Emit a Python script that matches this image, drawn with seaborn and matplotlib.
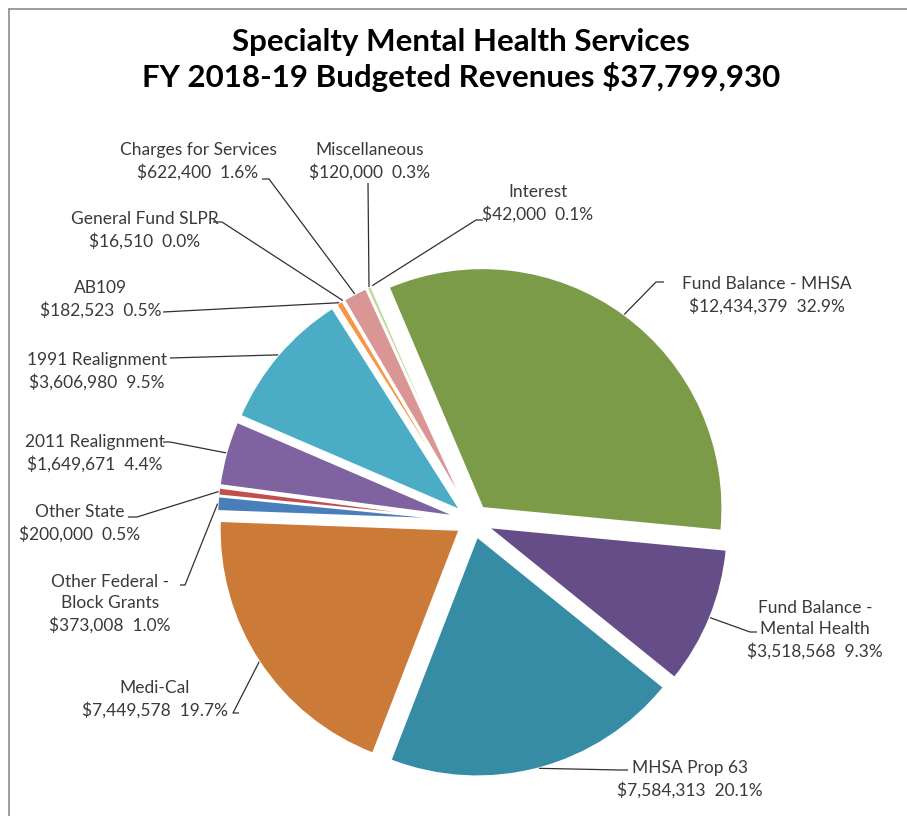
import numpy as np
import matplotlib
matplotlib.use("Agg")
import matplotlib.pyplot as plt
from matplotlib.lines import Line2D
import seaborn as sns

# ---------------- data ----------------
categories = [
    "Fund Balance - MHSA", "Fund Balance -\nMental Health", "MHSA Prop 63",
    "Medi-Cal", "Other Federal -\nBlock Grants", "Other State",
    "2011 Realignment", "1991 Realignment", "AB109", "General Fund SLPR",
    "Charges for Services", "Miscellaneous", "Interest",
]
values = [12434379, 3518568, 7584313, 7449578, 373008, 200000,
          1649671, 3606980, 182523, 16510, 622400, 120000, 42000]
colors_hex = ["#7B9B48", "#654D88", "#378CA5", "#CC7A38", "#4A7EBB", "#C0504D",
              "#7F63A1", "#4BACC6", "#F79646", "#2C4D75", "#D99694", "#C4D79B",
              "#B7DEE8"]
title_text = "Specialty Mental Health Services\nFY 2018-19 Budgeted Revenues $37,799,930"

# ---------------- layout (pixels) ----------------
W, H = 907, 816
CX, CY, R = 473, 521, 240          # pie centre and radius in pixels
EXPL = 16 / R
START = 113                         # degrees, clockwise drawing

# text centre (px) and leader start points (px) for each label
label_pos = {
    0: ((767, 295), [(664, 282), (656, 282)]),
    1: ((815, 630), [(757, 632), (750, 632)]),
    2: ((690, 779), [(628, 770), (620, 770)]),
    3: ((155, 699), [(239, 713), (233, 713)]),
    4: ((110, 604), [(180, 585), (185, 585)]),
    5: ((80, 523), [(128, 517), (137, 517)]),
    6: ((95, 453), [(163, 442), (170, 442)]),
    7: ((97, 371), [(170, 358)]),
    8: ((101, 299), [(163, 312)]),
    9: ((145, 230), [(213, 222), (222, 222)]),
    10: ((198, 161), [(262, 179), (269, 179)]),
    11: ((370, 161), [(368, 183)]),
    12: ((538, 203), [(483, 220), (476, 220)]),
}

def P(px, py):
    return ((px - CX) / R, (CY - py) / R)

sns.set_theme(style="white")
plt.rcParams["font.family"] = ["Lato", "DejaVu Sans"]

palette = sns.color_palette(colors_hex)

fig = plt.figure(figsize=(W / 100, H / 100), dpi=100)
ax = fig.add_axes([0, 0, 1, 1])
wedges, _ = ax.pie(values, colors=palette, startangle=START, counterclock=False,
                   explode=[EXPL] * len(values), radius=1,
                   wedgeprops=dict(edgecolor="white", linewidth=1.5))
ax.set_xlim(-CX / R, (W - CX) / R)
ax.set_ylim(-(H - CY) / R, CY / R)
ax.set_aspect("auto")
ax.axis("off")

total = sum(values)
for i, (w, cat, v) in enumerate(zip(wedges, categories, values)):
    th = np.deg2rad((w.theta1 + w.theta2) / 2)
    cx, cy = w.center
    ax_pt = (cx + np.cos(th), cy + np.sin(th))
    (tx, ty), pts = label_pos[i]
    txt = f"{cat}\n${v:,}  {v / total * 100:.1f}%"
    ax.text(*P(tx, ty), txt, ha="center", va="center", fontsize=12.5,
            color="#3A3A3A", linespacing=1.42, multialignment="center")
    xs = [P(*p)[0] for p in pts] + [ax_pt[0]]
    ys = [P(*p)[1] for p in pts] + [ax_pt[1]]
    ax.plot(xs, ys, color="#303030", lw=0.9, solid_capstyle="butt")

ax.text(*P(461, 60), title_text, ha="center", va="center", fontsize=22.5,
        fontweight="bold", color="black", linespacing=1.2)

# outer frame (clipped chart border)
fig.add_artist(Line2D([8.5 / W, 8.5 / W], [0, 1 - 8.5 / H], transform=fig.transFigure,
                      color="#8C8C8C", lw=1.2))
fig.add_artist(Line2D([8.5 / W, 1], [1 - 8.5 / H, 1 - 8.5 / H], transform=fig.transFigure,
                      color="#8C8C8C", lw=1.2))

fig.savefig("out.png", dpi=100, facecolor="white")
